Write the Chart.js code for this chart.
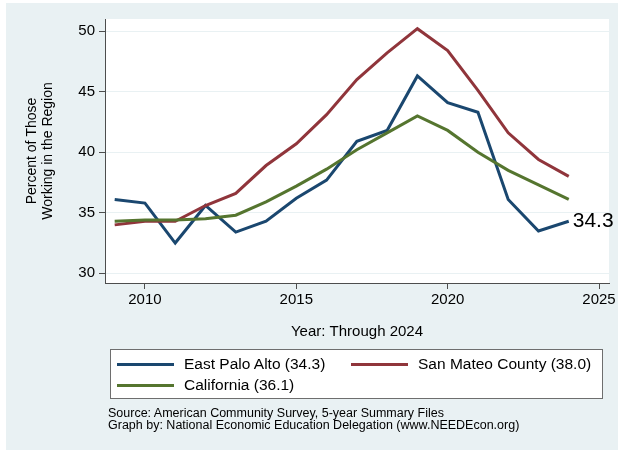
<!DOCTYPE html>
<html>
<head>
<meta charset="utf-8">
<script src="https://cdn.jsdelivr.net/npm/chart.js@4.4.0/dist/chart.umd.min.js"></script>
<style>
  html, body { margin: 0; padding: 0; background: #fff; }
  #wrap { position: relative; width: 618px; height: 450px; overflow: hidden; background: #fff;
          font-family: "Liberation Sans", Arial, Helvetica, sans-serif; color: #000; }
  #bg { position: absolute; left: 6px; top: 3px; right: 0; bottom: 0; background: #e9f1f3; }
  canvas { position: absolute; left: 0; top: 0; }
  #legend { position: absolute; left: 110px; top: 349px; width: 491px; height: 48px;
            border: 1px solid #6e6e6e; background: #fff; }
  #legend .swatch { position: absolute; width: 57px; height: 3px; }
  #legend .lbl { position: absolute; font-size: 15.5px; line-height: 18px; white-space: nowrap; }
  #source { position: absolute; left: 108px; top: 408px; font-size: 12.5px; line-height: 11.7px; white-space: nowrap; }
</style>
</head>
<body>
<div id="wrap">
  <div id="bg"></div>
  <canvas id="chart" width="618" height="450"></canvas>
  <div id="legend"></div>
  <div id="source">Source: American Community Survey, 5-year Summary Files<br>Graph by: National Economic Education Delegation (www.NEEDEcon.org)</div>
</div>
<script>
// data
const years = [2009, 2010, 2011, 2012, 2013, 2014, 2015, 2016, 2017, 2018, 2019, 2020, 2021, 2022, 2023, 2024];
const eastPaloAlto = [36.1, 35.8, 32.5, 35.6, 33.4, 34.3, 36.2, 37.7, 40.9, 41.8, 46.3, 44.1, 43.3, 36.1, 33.5, 34.3];
const sanMateo = [34.0, 34.3, 34.3, 35.6, 36.6, 38.9, 40.7, 43.1, 46.0, 48.2, 50.2, 48.4, 45.1, 41.6, 39.4, 38.0];
const california = [34.3, 34.4, 34.4, 34.5, 34.8, 35.9, 37.2, 38.6, 40.2, 41.6, 43.0, 41.8, 40.0, 38.5, 37.3, 36.1];
const xTicks = [2010, 2015, 2020, 2025];
const yTicks = [30, 35, 40, 45, 50];

const FONT = '"Liberation Sans", Arial, Helvetica, sans-serif';

const series = [
  { name: "East Palo Alto", values: eastPaloAlto, color: "#1a476f", order: 3 },
  { name: "San Mateo County", values: sanMateo, color: "#90353b", order: 2 },
  { name: "California", values: california, color: "#55752f", order: 1 },
];

function label(s) {
  return s.name + " (" + s.values[s.values.length - 1].toFixed(1) + ")";
}

// legend box (html)
const legendPos = [
  { sx: 6, sy: 12.5, tx: 73, ty: 5 },
  { sx: 240, sy: 12.5, tx: 307, ty: 5 },
  { sx: 6, sy: 34.2, tx: 73, ty: 26.3 },
];
const legendEl = document.getElementById("legend");
series.forEach((s, i) => {
  const p = legendPos[i];
  const sw = document.createElement("div");
  sw.className = "swatch";
  sw.style.left = p.sx + "px";
  sw.style.top = p.sy + "px";
  sw.style.background = s.color;
  legendEl.appendChild(sw);
  const t = document.createElement("div");
  t.className = "lbl";
  t.style.left = p.tx + "px";
  t.style.top = p.ty + "px";
  t.textContent = label(s);
  legendEl.appendChild(t);
});

// white plot region
const plotBg = {
  id: "plotBg",
  beforeDraw(chart) {
    const { ctx, chartArea: a } = chart;
    ctx.save();
    ctx.fillStyle = "#fff";
    ctx.fillRect(a.left, a.top, a.right - a.left, a.bottom - a.top);
    ctx.restore();
  },
};

// value label at the end of the East Palo Alto line
const endLabel = {
  id: "endLabel",
  afterDatasetsDraw(chart) {
    const meta = chart.getDatasetMeta(0);
    const pt = meta.data[meta.data.length - 1];
    const { ctx } = chart;
    ctx.save();
    ctx.font = "21px " + FONT;
    ctx.fillStyle = "#000";
    ctx.textAlign = "left";
    ctx.textBaseline = "middle";
    ctx.fillText(eastPaloAlto[eastPaloAlto.length - 1].toFixed(1), pt.x + 4, pt.y);
    ctx.restore();
  },
};

new Chart(document.getElementById("chart"), {
  type: "line",
  data: {
    datasets: series.map((s) => ({
      label: label(s),
      data: years.map((y, i) => ({ x: y, y: s.values[i] })),
      borderColor: s.color,
      backgroundColor: s.color,
      borderWidth: 3,
      borderJoinStyle: "miter",
      borderCapStyle: "butt",
      pointRadius: 0,
      tension: 0,
      order: s.order,
    })),
  },
  options: {
    responsive: false,
    animation: false,
    devicePixelRatio: 1,
    layout: { padding: { top: 19, right: 9, bottom: 105, left: 0 } },
    plugins: { legend: { display: false }, tooltip: { enabled: false } },
    scales: {
      x: {
        type: "linear",
        min: 2008.68,
        max: 2025.33,
        afterBuildTicks(scale) {
          scale.ticks = xTicks.map((v) => ({ value: v }));
        },
        afterFit(scale) {
          scale.height = 62;
          scale.paddingLeft = 0;
          scale.paddingRight = 0;
        },
        ticks: {
          color: "#000",
          font: { family: FONT, size: 15 },
          padding: 2,
          maxRotation: 0,
          callback: (v) => String(v),
        },
        grid: { drawOnChartArea: false, tickLength: 6, tickColor: "#4d4d4d" },
        border: { color: "#4d4d4d", width: 1 },
        title: {
          display: true,
          text: "Year: Through 2024",
          color: "#000",
          font: { family: FONT, size: 15 },
          padding: { top: 0, bottom: 4 },
        },
      },
      y: {
        min: 29.2,
        max: 51,
        afterBuildTicks(scale) {
          scale.ticks = yTicks.map((v) => ({ value: v }));
        },
        afterFit(scale) {
          scale.width = 105;
          scale.paddingTop = 0;
          scale.paddingBottom = 0;
        },
        ticks: {
          color: "#000",
          font: { family: FONT, size: 15 },
          padding: 4,
        },
        grid: { color: "#e9f1f3", lineWidth: 1, tickLength: 6, tickColor: "#4d4d4d" },
        border: { color: "#4d4d4d", width: 1 },
        title: {
          display: true,
          text: ["Percent of Those", "Working in the Region"],
          color: "#000",
          font: { family: FONT, size: 14, lineHeight: 16 / 14 },
          padding: { top: 24.4, bottom: 0 },
        },
      },
    },
  },
  plugins: [plotBg, endLabel],
});
</script>
</body>
</html>
